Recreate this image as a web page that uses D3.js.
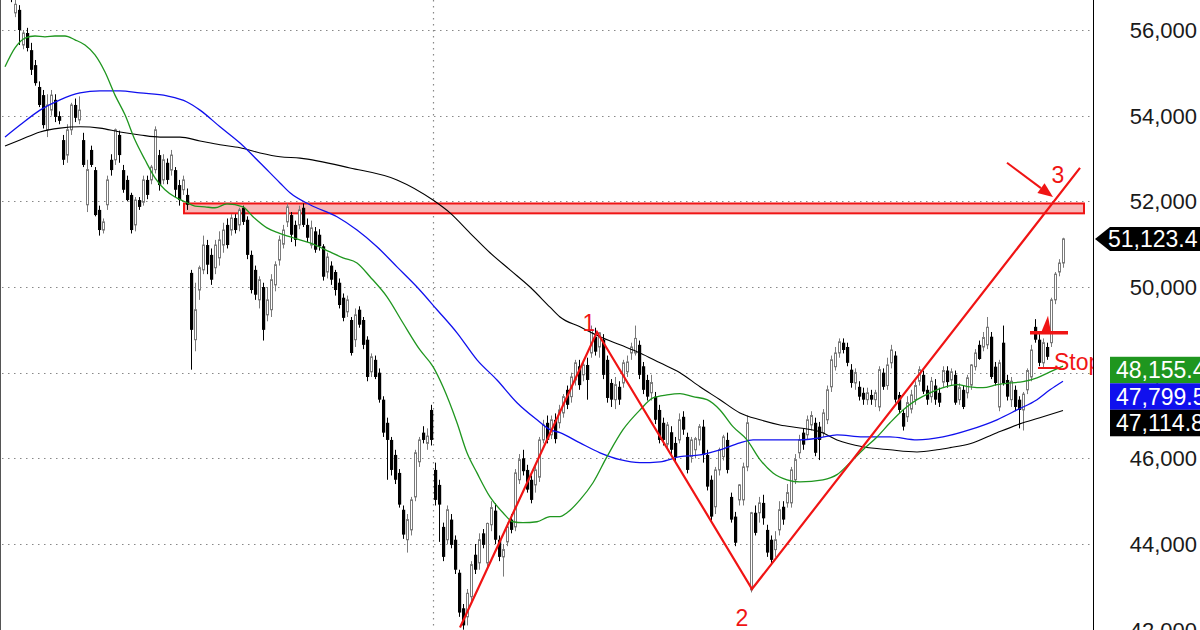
<!DOCTYPE html>
<html><head><meta charset="utf-8">
<script src="https://cdn.jsdelivr.net/npm/d3@7"></script>
<style>html,body{margin:0;padding:0;background:#fff;overflow:hidden}svg{display:block;font-family:"Liberation Sans",Arial,sans-serif}</style>
</head><body><svg id="c" width="1200" height="630"></svg>
<script>
// Daily bars: [open, high, low, close]
const ohlc = [
[57000,57300,56800,57100],[56900,57100,56650,56750],
[56400,56700,56300,56600],[56470,56580,55650,56000],[55650,56000,55550,55930],[55930,56050,55500,55580],[55530,55700,54950,55070],
[55180,55300,54700,54760],[54670,54800,54200,54250],[54480,54600,53700,53780],[53670,54500,53500,54250],[54130,54600,54000,54480],
[54370,54500,53850,53970],[53990,54100,53800,53880],[53430,53550,52850,52970],[53080,53800,52900,53670],[53670,54300,53550,54250],
[54250,54400,53850,53950],[53900,54450,53800,54130],[53430,53600,52800,52850],[51920,52970,51750,52740],[53200,53300,52800,52850],
[52730,52800,51650,51680],[51800,51900,51200,51330],[51330,51600,51250,51520],[51920,52600,51800,52500],
[52970,53100,52600,52730],[52970,53700,52850,53670],[53550,53650,52900,53080],[52730,52850,52200,52270],[52500,52600,52000,52030],
[52150,52200,51250,51330],[51450,52100,51300,52030],[52030,52100,51800,51870],[51980,52600,51900,52500],[52500,52600,52050,52150],
[52500,52850,52400,52800],[52740,53750,52650,53670],[53080,53200,52250,52380],[52500,53100,52400,52970],[52900,53000,52400,52500],
[52730,53200,52600,53080],[52730,52800,52100,52270],[52380,52500,51900,52030],[52270,52600,52150,52500],
[52150,52300,51800,51920],[50330,50400,48070,49000],[48770,50100,48500,49470],[49930,50500,49700,50450],[50400,51200,50300,50980],
[50980,51100,50300,50520],[50750,50900,50050,50170],[50450,51100,50300,50980],[50680,51300,50500,51100],[50980,51500,50800,51330],
[51450,51600,50900,50980],[51330,51700,51200,51610],[51610,51700,51250,51330],[51450,51850,51300,51800],[51850,51900,51450,51520],
[51570,51650,50650,50750],[50750,50850,49850,49930],[50400,50500,49700,49820],[49700,50250,49500,50170],[50000,50100,48750,49000],
[49350,50000,49200,49700],[49470,50300,49300,50170],[50050,50600,49900,50520],[50630,51200,50500,51100],[51000,51450,50900,51330],
[51520,51950,51400,51870],[51680,51750,51050,51220],[51450,51550,50950,51100],[51450,51900,51350,51800],[51850,51950,51400,51450],
[51450,51600,51050,51150],[50980,51550,50900,51380],[51300,51400,50800,50870],[51220,51350,50850,50950],[50950,51000,50150,50240],
[50350,50800,50200,50700],[50500,50600,50050,50170],[50350,50400,49800,49930],[50100,50200,49500,49580],[49750,49850,49200,49280],
[49420,49800,49300,49700],[49230,49300,48400,48460],[48770,49500,48600,49350],[49470,49550,49050,49120],[49230,49300,48550,48650],
[48770,48850,47800,47900],[48020,48450,47900,48370],[48300,48400,47850,47900],[48000,48100,47300,47370],[47370,47450,46500,46600],
[46830,46950,45500,46430],[46430,46500,45600,45730],[46080,46200,45400,45500],[45660,45750,44850,44920],[44800,44900,44120,44220],
[44100,44700,43800,44570],[44330,45100,44200,45030],[45100,46200,45000,46130],[45920,46500,45800,46430],[46600,46750,46350,46430],
[46350,46700,46200,46520],[47130,47250,46300,46430],[45730,45900,44900,45030],[45380,45500,44050,44920],[44400,44500,43600,43700],
[44100,44900,44000,44800],[44570,44700,43900,43980],[44100,44200,43300,43400],[43330,43400,42300,42400],[42500,42600,42000,42100],
[42300,42950,42100,42850],[42770,43600,42650,43520],[43750,44000,43300,43400],[43560,44250,43400,44100],[44250,44350,43900,43980],
[43560,44500,43450,44480],[44450,45000,44300,44850],[44780,44950,44000,44100],[44100,44200,43600,43700],[43700,44000,43240,43870],
[44050,44500,43950,44400],[44570,44700,44250,44330],[44400,45750,44300,45660],[45500,46100,45400,45970],[46000,46200,45600,45700],
[45730,45850,45200,45270],[45500,45600,44950,45030],[45380,45850,45200,45730],[45560,46500,45450,46430],[46430,46900,46350,46780],
[46830,47000,46350,46430],[46550,47000,46450,46900],[46900,47050,46350,46450],[46830,47250,46700,47130],[47060,47500,46950,47440],
[47600,47700,47150,47250],[47440,48000,47300,47900],[47830,48300,47700,48230],[48150,48300,47600,47710],[47950,48300,47800,48180],
[48180,48350,47370,47830],[48460,49100,48350,49000],[48840,49050,48400,48490],[48600,48950,48350,48930],[48770,48900,47850,47950],
[48300,48400,47300,47410],[47760,47850,47200,47370],[47370,47900,47150,47720],[47670,47800,47250,47370],[47760,48300,47650,48230],
[48020,48400,47900,48250],[48460,48700,48300,48600],[48460,49100,48400,48800],[48650,48750,47850,47950],[48150,48250,47500,47600],
[47830,47950,47350,47440],[47530,47950,47350,47770],[47440,47550,46800,46900],[47130,47250,46350,46430],[46830,46950,46300,46430],
[46330,46850,46200,46780],[46610,46750,46100,46200],[46360,46500,45900,46030],[46430,47050,46350,46900],[46970,47100,46550,46670],
[46500,46600,45650,45730],[46040,46500,45900,46430],[46200,46500,46000,46460],[46430,46800,46300,46740],[46740,46900,45900,46080],
[46080,46200,45250,45340],[45500,45600,44550,44640],[44870,45800,44700,45730],[45730,46250,45600,46200],[46040,46550,45950,46500],
[46430,46600,45650,45730],[45100,45200,44500,44570],[44640,44750,43950,44030],[45030,45400,44900,45380],[45030,45900,44900,45800],
[45800,47000,45700,46830],[42930,44750,42870,44730],[44730,44900,44200,44260],[44730,45100,44500,44960],[44960,45150,44450,44600],
[44330,44450,43700,43800],[44100,44200,43550,43630],[43870,44300,43700,44100],[44330,45000,44200,44800],[44870,45000,44450,44570],
[44960,45400,44850,45200],[44960,45800,44850,45730],[45500,46100,45400,45970],[46130,46550,46000,46430],[46600,46700,46200,46320],
[46550,47000,46450,46900],[46780,47100,46650,47000],[46830,46950,46050,46130],[46740,46850,45960,46430],[46600,47150,46500,47060],
[46900,47700,46800,47600],[47670,48400,47550,48300],[48140,48600,48050,48460],[48460,48800,48350,48720],[48700,48800,48450,48530],
[48600,48700,48150,48230],[48070,48200,47650,47760],[47760,48100,47600,48000],[47670,47800,47350,47440],[47530,47650,47250,47370],
[47370,47650,47250,47530],[47480,47600,47250,47370],[47370,47600,47200,47530],[47200,48150,47100,48070],[48000,48100,47600,47670],
[47700,48350,47600,48180],[48230,48650,48100,48530],[48400,48500,47300,47370],[47480,47550,47050,47130],[47060,47150,46650,46740],
[46970,47450,46850,47300],[47150,47600,47050,47480],[47370,47800,47250,47700],[47800,48150,47700,48070],[47950,48050,47500,47560],
[47600,47700,47250,47370],[47440,47900,47300,47800],[47700,47850,47250,47370],[47530,47650,47200,47300],[47780,48150,47650,48050],
[48050,48150,47650,47780],[47830,48100,47700,48020],[47950,48050,47250,47300],[47370,47750,47250,47650],[47600,47700,47150,47200],
[47530,47950,47400,47880],[47710,48200,47600,48180],[48140,48550,48050,48460],[48650,48750,48300,48320],[48600,48950,48500,48820],
[48650,49300,48550,49060],[48840,48950,47850,47900],[48140,48250,47700,47760],[47200,48300,47100,48230],[48700,49100,47700,47760],
[47830,47950,47350,47440],[47370,47900,47200,47800],[47600,47700,47100,47200],[47370,47450,46700,47130],[47130,47550,46650,47500],
[47600,48100,47500,48050],[47900,48650,47800,48530],[49070,49250,48700,48770],[48770,48900,48150,48230],[48230,48800,48100,48700],
[48600,48700,48300,48370],[48700,49750,48600,49700],[49700,50350,49600,50300],[50350,50650,50250,50560],[50560,51150,50450,51123.4]
];

const yTicks = [42000, 44000, 46000, 48000, 50000, 52000, 54000, 56000];

// Moving averages: [bar index, price]
const maFast = [[-0.5,55140],[2,55580],[4.5,55810],[7,55860],[9.5,55840],[12,55860],[14.5,55860],[17,55770],[19.5,55650],[22,55420],
[24.5,55020],[27,54480],[29.5,54020],[32,53430],[34.5,52970],[37,52550],[39.5,52270],[42,52100],[44.5,51990],[47,51890],[49.5,51870],
[52,51850],[55,51940],[59,51870],[61.5,51640],[65,51380],[68,51260],[71.5,51150],[75.75,51030],[80.75,50820],[84,50680],[87.5,50560],
[90.75,50240],[95,49770],[99,49160],[103.25,48530],[106.5,48140],[109,47670],[112.5,46830],[115,46130],[117.5,45660],[120.75,45100],
[124,44730],[126.5,44520],[129,44500],[132.5,44520],[135.75,44640],[138.25,44640],[140,44730],[143.25,45030],[146.5,45430],[150,46040],
[154,46670],[158.25,47130],[161.5,47410],[165,47480],[168.25,47510],[171.5,47440],[175,47370],[178.25,47130],[181.5,46740],[185,46430],
[188.25,45970],[191.5,45660],[195,45500],[198.25,45450],[204,45500],[207.5,45620],[210.75,45900],[214,46200],[217.5,46500],[220.75,46830],
[224,47130],[227.5,47370],[230.75,47530],[234,47650],[237.5,47720],[240.75,47670],[244,47650],[247.5,47720],[250.75,47760],[254,47790],
[257.5,47880],[260.75,48020],[264,48155]];
const maMid = [[-0.5,53500],[3.25,53780],[8.25,54130],[13.25,54370],[18.25,54530],[23.25,54580],[28.25,54580],[33.25,54530],[40,54460],
[45,54320],[48.25,54130],[53.25,53740],[58.25,53360],[63.25,52900],[68.25,52430],[70.75,52200],[75.75,51920],[82.5,51640],[87.5,51330],
[92.5,50940],[97.5,50470],[102.5,50000],[107.5,49470],[112.5,48930],[117.5,48300],[122.5,47830],[127.5,47300],[132.5,46900],[135.75,46670],
[138.25,46600],[143.25,46360],[148.25,46130],[153.25,45970],[158.25,45900],[163.25,45920],[168.25,46040],[173.25,46080],[178.25,46200],
[183.25,46360],[186.5,46430],[191.5,46430],[198.25,46430],[203.25,46480],[207.5,46550],[214,46500],[220.75,46500],[227.5,46430],[234,46500],
[240.75,46670],[247.5,46900],[252.5,47130],[257.5,47370],[260.75,47600],[264,47800]];
const maSlow = [[-0.5,53290],[3.25,53430],[8.25,53620],[13.25,53710],[18.25,53740],[23.25,53710],[28.25,53620],[33.25,53550],[38.25,53500],
[43.25,53500],[48.25,53410],[53.25,53320],[58.25,53250],[63.25,53130],[68.25,53040],[73.25,53010],[85.75,52780],[97.5,52500],[106.5,52030],
[110.75,51730],[115.75,51260],[120.75,50800],[125.75,50400],[130.75,50000],[135.75,49530],[138.25,49300],[143.25,49070],[148.25,48840],
[153.25,48650],[158.25,48460],[163.25,48230],[168.25,48000],[173.25,47670],[178.25,47370],[183.25,47060],[188.25,46900],[193.25,46780],
[198.25,46710],[203.25,46620],[207.5,46430],[214,46270],[220.75,46200],[227.5,46150],[232.5,46200],[235.75,46250],[240.75,46340],
[247.5,46600],[254,46830],[259,46970],[264,47115]];

const periodBreaks = [106.5];
const zoneBars = [44.25, 269.25];
const zonePrices = [51720, 51950];
const wavePoints = [[113.25,42050],[147.5,48950],[186.25,42950],[268.25,52780]];
const waveLabels = ["1", "2", "3"];
const arrowPoints = [[250,52900],[261.5,52100]];
const entryBar = [255.75, 265.25, 48930];
const entryMarker = [[258.5,48930],[261,48930],[260.25,49330]];
const stopLine = [257.75, 263.25, 48110];
const stopText = ["Stop", 261.75, 48070];
const lastPrice = 51123.4;
const maTags = [48155.4, 47799.5, 47114.8];
const maColors = ["#1f961f", "#1010ee", "#000000"];

const svg = d3.select("#c");
const axisX = 1093;
const x = d3.scaleLinear().domain([0, ohlc.length - 1]).range([7, 1063]);
const y = d3.scaleLinear().domain([42000, 56000]).range([629.7, 30]);
const RED = "#f01414";

svg.append("rect").attr("width", 1200).attr("height", 630).attr("fill", "#fff");
svg.append("clipPath").attr("id", "plot").append("rect").attr("x", 0).attr("y", 0).attr("width", axisX).attr("height", 630);
const g = svg.append("g").attr("clip-path", "url(#plot)");

// grid
g.selectAll(".gy").data(yTicks).join("line")
  .attr("x1", 2).attr("x2", axisX).attr("y1", d => Math.round(y(d)) + 0.5).attr("y2", d => Math.round(y(d)) + 0.5)
  .attr("stroke", "#888").attr("stroke-width", 1.2).attr("stroke-dasharray", "1.5,4.5");
g.selectAll(".gx").data(periodBreaks).join("line")
  .attr("x1", d => Math.round(x(d)) + 0.5).attr("x2", d => Math.round(x(d)) + 0.5).attr("y1", 0).attr("y2", 630)
  .attr("stroke", "#888").attr("stroke-width", 1.2).attr("stroke-dasharray", "1.5,4.5");

// resistance zone
g.append("rect").attr("x", x(zoneBars[0])).attr("width", x(zoneBars[1]) - x(zoneBars[0]))
  .attr("y", y(zonePrices[1])).attr("height", y(zonePrices[0]) - y(zonePrices[1]))
  .attr("fill", "#f8b7b7").attr("stroke", RED).attr("stroke-width", 2);

// candles
const cg = g.append("g");
ohlc.forEach((d, i) => {
  const [o, h, l, c] = d;
  const up = c >= o;
  const cx = Math.round(x(i));
  const col = up ? "#7a7a7a" : "#000";
  cg.append("line").attr("x1", cx + 0.5).attr("x2", cx + 0.5).attr("y1", y(h)).attr("y2", y(l))
    .attr("stroke", col).attr("stroke-width", 1);
  const top = y(Math.max(o, c)), bot = y(Math.min(o, c));
  if (up) {
    cg.append("rect").attr("x", cx - 0.5).attr("width", 2).attr("y", top).attr("height", Math.max(1, bot - top))
      .attr("fill", "#fff").attr("stroke", col).attr("stroke-width", 1);
  } else {
    cg.append("rect").attr("x", cx - 1).attr("width", 3.2).attr("y", top).attr("height", Math.max(1.5, bot - top))
      .attr("fill", "#000");
  }
});

// moving averages
const line = d3.line().x(d => x(d[0])).y(d => y(d[1])).curve(d3.curveMonotoneX);
[[maSlow, maColors[2], 1.1], [maMid, maColors[1], 1.3], [maFast, maColors[0], 1.3]].forEach(([data, col, w]) => {
  g.append("path").attr("d", line(data)).attr("fill", "none").attr("stroke", col).attr("stroke-width", w);
});

// wave lines
g.append("path").attr("d", d3.line().x(d => x(d[0])).y(d => y(d[1]))(wavePoints))
  .attr("fill", "none").attr("stroke", RED).attr("stroke-width", 2.2).attr("stroke-linejoin", "miter");
const labelOffsets = [[-8, -1], [-10, 37], [-22, 15]];
waveLabels.forEach((t, k) => {
  const p = wavePoints[k + 1];
  g.append("text").attr("x", x(p[0]) + labelOffsets[k][0]).attr("y", y(p[1]) + labelOffsets[k][1])
    .attr("text-anchor", "middle").attr("font-size", 23).attr("fill", RED).text(t);
});

// arrow to point 3
{
  const x1 = x(arrowPoints[0][0]), y1 = y(arrowPoints[0][1]), x2 = x(arrowPoints[1][0]), y2 = y(arrowPoints[1][1]);
  const ang = Math.atan2(y2 - y1, x2 - x1), L = 15, Wd = 6;
  const bx = x2 - L * Math.cos(ang), by = y2 - L * Math.sin(ang);
  g.append("line").attr("x1", x1).attr("y1", y1).attr("x2", bx).attr("y2", by).attr("stroke", RED).attr("stroke-width", 2);
  g.append("polygon").attr("points", [[x2, y2], [bx + Wd * Math.sin(ang), by - Wd * Math.cos(ang)], [bx - Wd * Math.sin(ang), by + Wd * Math.cos(ang)]].map(p => p.join(",")).join(" "))
    .attr("fill", RED);
}

// entry marker & stop
g.append("line").attr("x1", x(entryBar[0])).attr("x2", x(entryBar[1])).attr("y1", y(entryBar[2])).attr("y2", y(entryBar[2]))
  .attr("stroke", RED).attr("stroke-width", 3.5);
g.append("polygon").attr("points", entryMarker.map(p => [x(p[0]), y(p[1])].join(",")).join(" ")).attr("fill", RED);
g.append("line").attr("x1", x(stopLine[0])).attr("x2", x(stopLine[1])).attr("y1", y(stopLine[2])).attr("y2", y(stopLine[2]))
  .attr("stroke", RED).attr("stroke-width", 2);
g.append("text").attr("x", x(stopText[1])).attr("y", y(stopText[2])).attr("font-size", 23).attr("fill", RED).text(stopText[0]);

// left border & axis
svg.append("line").attr("x1", 0.5).attr("x2", 0.5).attr("y1", 0).attr("y2", 630).attr("stroke", "#555");
svg.append("line").attr("x1", axisX + 0.5).attr("x2", axisX + 0.5).attr("y1", 0).attr("y2", 630).attr("stroke", "#000");

const fmt = d3.format(",");
svg.selectAll(".tl").data(yTicks).join("text")
  .attr("x", 1197).attr("y", d => y(d)).attr("dy", "0.36em").attr("text-anchor", "end")
  .attr("font-size", 22).attr("fill", "#1a1a1a").text(d => fmt(d));

// last price tag
{
  const ly = y(lastPrice);
  svg.append("polygon").attr("points", [[axisX + 2, ly], [1110, ly - 12], [1200, ly - 12], [1200, ly + 12], [1110, ly + 12]].map(p => p.join(",")).join(" "))
    .attr("fill", "#000");
  svg.append("text").attr("x", 1108).attr("y", ly).attr("dy", "0.36em").attr("font-size", 23).attr("fill", "#fff")
    .text(d3.format(",.1f")(lastPrice));
}
// MA tags
{
  const hgt = 26.5;
  let prev = -1e9;
  maTags.forEach((v, k) => {
    let cy = y(v) + 4;
    cy = Math.max(cy, prev + hgt);
    prev = cy;
    svg.append("rect").attr("x", 1110).attr("y", cy - hgt / 2).attr("width", 90).attr("height", hgt).attr("fill", maColors[k]);
    svg.append("text").attr("x", 1116).attr("y", cy).attr("dy", "0.36em").attr("font-size", 23).attr("fill", "#fff")
      .text(d3.format(",.1f")(v));
  });
}
</script></body></html>
